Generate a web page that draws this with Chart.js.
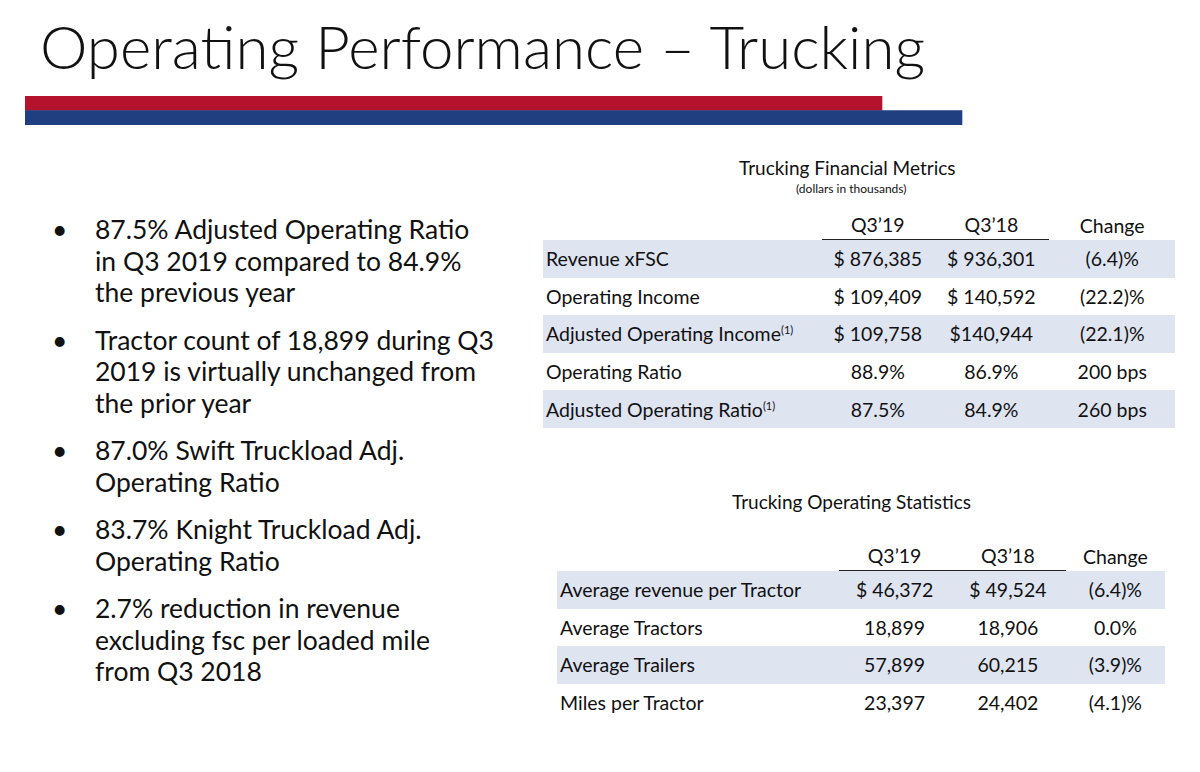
<!DOCTYPE html>
<html><head><meta charset="utf-8">
<script src="https://cdn.jsdelivr.net/npm/chart.js@4"></script>
<style>
body{margin:0;width:1200px;height:772px;background:#fff;font-family:Lato,"Open Sans",sans-serif;color:#111;position:relative;overflow:hidden}
.a{position:absolute;white-space:nowrap}
#title{left:40px;top:10px;font-size:60px;font-weight:300}
#stripes{position:absolute;left:25px;top:96px;width:940px;height:29px}
ul{position:absolute;left:52px;top:214px;margin:0;padding:0;list-style:none;font-size:26.5px;line-height:31.5px}
li{position:relative;padding-left:43px;margin-bottom:16px;white-space:nowrap}
li:before{content:"•";position:absolute;left:0}
table{position:absolute;border-collapse:collapse;font-size:19.5px}
td{height:37.6px;padding:0}
tr.s td{background:#dfe4f1}
td.n{text-align:center}
th{font-weight:normal;text-align:center;height:30px;vertical-align:bottom;padding-bottom:3px}
th.u{border-bottom:1px solid #222}
sup{font-size:11px}
</style></head><body>
<div class="a" id="title">Operating Performance – Trucking</div>
<div id="stripes"><canvas id="c" width="940" height="29"></canvas></div>
<ul id="bul"></ul>
<div class="a" style="left:739px;top:156px;font-size:19px">Trucking Financial Metrics</div>
<div class="a" style="left:796px;top:181px;font-size:12px">(dollars in thousands)</div>
<table id="t1" style="left:543px;top:205px;width:632px"></table>
<div class="a" style="left:732px;top:490px;font-size:19px">Trucking Operating Statistics</div>
<table id="t2" style="left:557px;top:536px;width:608px"></table>
<script>
const bullets = [
  ["87.5% Adjusted Operating Ratio", "in Q3 2019 compared to 84.9%", "the previous year"],
  ["Tractor count of 18,899 during Q3", "2019 is virtually unchanged from", "the prior year"],
  ["87.0% Swift Truckload Adj.", "Operating Ratio"],
  ["83.7% Knight Truckload Adj.", "Operating Ratio"],
  ["2.7% reduction in revenue", "excluding fsc per loaded mile", "from Q3 2018"]
];
const columns = ["Q3\u201919", "Q3\u201918", "Change"];
const finLabels = ["Revenue xFSC", "Operating Income", "Adjusted Operating Income<sup>(1)</sup>", "Operating Ratio", "Adjusted Operating Ratio<sup>(1)</sup>"];
const finQ319 = ["$ 876,385", "$ 109,409", "$ 109,758", "88.9%", "87.5%"];
const finQ318 = ["$ 936,301", "$ 140,592", "$140,944", "86.9%", "84.9%"];
const finChange = ["(6.4)%", "(22.2)%", "(22.1)%", "200 bps", "260 bps"];
const opLabels = ["Average revenue per Tractor", "Average Tractors", "Average Trailers", "Miles per Tractor"];
const opQ319 = ["$ 46,372", "18,899", "57,899", "23,397"];
const opQ318 = ["$ 49,524", "18,906", "60,215", "24,402"];
const opChange = ["(6.4)%", "0.0%", "(3.9)%", "(4.1)%"];
const stripeNames = ["red", "blue"];
const stripeLengths = [857, 937];

document.getElementById("bul").innerHTML = bullets.map(b => `<li>${b.join("<br>")}</li>`).join("");

const buildTable = (id, labels, a, b, c, widths) => {
  let h = `<tr><th style="width:${widths[0]}px"></th><th class="u" style="width:${widths[1]}px">${columns[0]}</th><th class="u" style="width:${widths[2]}px">${columns[1]}</th><th style="width:${widths[3]}px">${columns[2]}</th></tr>`;
  labels.forEach((l, i) => {
    h += `<tr class="${i % 2 === 0 ? "s" : ""}"><td style="padding-left:3px">${l}</td><td class="n">${a[i]}</td><td class="n">${b[i]}</td><td class="n">${c[i]}</td></tr>`;
  });
  document.getElementById(id).innerHTML = h;
};
buildTable("t1", finLabels, finQ319, finQ318, finChange, [282, 110, 115, 125]);
buildTable("t2", opLabels, opQ319, opQ318, opChange, [285, 110, 115, 98]);

// header stripes
new Chart(document.getElementById("c"), {
  type: "bar",
  data: {
    labels: stripeNames,
    datasets: [{
      data: stripeLengths,
      backgroundColor: ["#b5122e", "#1f3f80"],
      barPercentage: 1,
      categoryPercentage: 1,
    }],
  },
  options: {
    indexAxis: "y",
    responsive: false,
    animation: false,
    layout: { padding: 0 },
    plugins: { legend: { display: false }, tooltip: { enabled: false } },
    scales: {
      x: { display: false, min: 0, max: 940 },
      y: { display: false },
    },
  },
});
</script>
</body></html>
